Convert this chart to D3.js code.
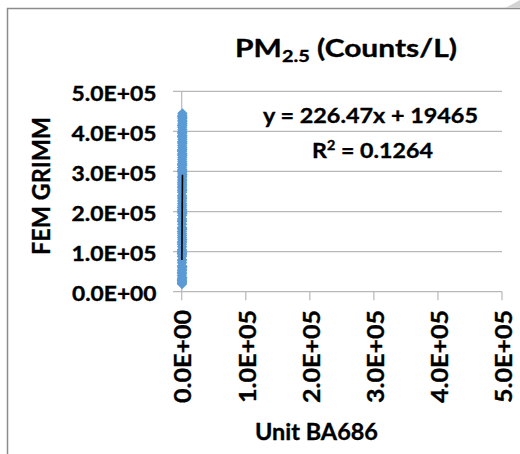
<!DOCTYPE html>
<html>
<head>
<meta charset="utf-8">
<script src="https://cdn.jsdelivr.net/npm/d3@7"></script>
<style>
  html, body { margin: 0; padding: 0; background: #fff; }
  svg { display: block; }
  text { font-family: Lato, "Open Sans", sans-serif; font-weight: bold; fill: #000;
         stroke: #000; stroke-width: 0.35; }
</style>
</head>
<body>
<svg id="chart" width="520" height="454"></svg>
<script>
// Paired readings: BA686 unit (x) against FEM GRIMM (y), PM2.5 counts per litre
const unitBA686 = [263, 290, 310, 325, 340, 355, 370, 385, 400, 410, 420, 435, 450, 460, 470,
  480, 495, 505, 515, 525, 540, 550, 560, 570, 580, 590, 600, 610, 620, 630, 640, 650, 660,
  670, 680, 690, 700, 710, 720, 730, 740, 750, 760, 770, 785, 800, 815, 830, 845, 860, 880,
  900, 920, 940, 960, 985, 1010, 1040, 1070, 1100, 1140, 1170, 1203,
  275, 345, 395, 445, 485, 530, 575, 615, 655, 695, 725, 765, 805, 835, 870, 895, 915, 935,
  955, 975, 995, 1020, 1050, 1080, 1110, 1130, 1150, 1160, 1185, 1195, 1090, 1060, 650, 590,
  700, 745, 820, 380, 430, 510, 555, 1120, 1000];
const femGrimm = [21000, 95000, 40000, 150000, 28000, 210000, 65000, 118000, 24000, 175000,
  52000, 260000, 88000, 135000, 33000, 198000, 72000, 310000, 105000, 160000, 45000, 240000,
  125000, 19000, 285000, 182000, 60000, 350000, 145000, 220000, 98000, 272000, 25000, 190000,
  330000, 112000, 248000, 168000, 395000, 80000, 300000, 205000, 140000, 365000, 55000, 268000,
  232000, 410000, 155000, 320000, 92000, 280000, 375000, 215000, 428000, 130000, 340000,
  255000, 445000, 195000, 385000, 292000, 420000,
  30000, 48000, 78000, 102000, 122000, 158000, 178000, 202000, 226000, 236000, 252000, 264000,
  276000, 288000, 296000, 305000, 315000, 325000, 335000, 345000, 355000, 360000, 370000,
  380000, 390000, 400000, 405000, 415000, 425000, 435000, 440000, 432000, 318000, 302000,
  342000, 372000, 398000, 352000, 388000, 415000, 438000, 62000, 35000];

// Linear trendline as reported on the chart
const slope = 226.47;
const intercept = 19465;
const rSquared = 0.1264;

const axisTicks = [0, 100000, 200000, 300000, 400000, 500000];
const tickFormat = v => v.toExponential(1).toUpperCase().replace(/E([+-])(\d)$/, "E$10$2");

const svg = d3.select("#chart");

// Stretch a text element horizontally (in its own frame) to a given width
function fitWidth(textSel, width) {
  const w = textSel.node().getBBox().width;
  return w > 0 ? width / w : 1;
}

// Chart area frame and the small shadow corner
svg.append("rect")
  .attr("x", 7.5).attr("y", 8.5).attr("width", 620).attr("height", 620)
  .attr("fill", "none").attr("stroke", "#8c8c8c").attr("stroke-width", 1.5);
svg.append("polygon")
  .attr("points", "505,8 520,0 520,8")
  .attr("fill", "#d4d4d4");

const x = d3.scaleLinear().domain([0, 500000]).range([181.7, 502]);
const y = d3.scaleLinear().domain([0, 500000]).range([291.7, 91.3]);

const gridColor = "#b8b8b8";

// Horizontal gridlines (with outward tick at the left)
svg.append("g").selectAll("line")
  .data(axisTicks)
  .join("line")
  .attr("x1", 173).attr("x2", x(500000))
  .attr("y1", d => y(d)).attr("y2", d => y(d))
  .attr("stroke", gridColor).attr("stroke-width", 1.2);

// Vertical axis line
svg.append("line")
  .attr("x1", x(0)).attr("x2", x(0))
  .attr("y1", y(500000)).attr("y2", y(0))
  .attr("stroke", gridColor).attr("stroke-width", 1.2);

// X tick marks
svg.append("g").selectAll("line")
  .data(axisTicks)
  .join("line")
  .attr("x1", d => x(d)).attr("x2", d => x(d))
  .attr("y1", y(0)).attr("y2", y(0) + 8.5)
  .attr("stroke", gridColor).attr("stroke-width", 1.2);

// Y tick labels
const yLabels = svg.append("g").selectAll("g")
  .data(axisTicks)
  .join("g");
yLabels.append("text")
  .attr("text-anchor", "end")
  .attr("font-size", 20)
  .text(tickFormat);
yLabels.attr("transform", function (d) {
  const s = fitWidth(d3.select(this).select("text"), 85);
  return `translate(156.5,${y(d) + 9.5}) scale(${s},1)`;
});

// X tick labels, rotated
const xLabels = svg.append("g").selectAll("g")
  .data(axisTicks)
  .join("g");
xLabels.append("text")
  .attr("text-anchor", "end")
  .attr("y", 23 * 0.36)
  .attr("font-size", 23)
  .text(tickFormat);
xLabels.attr("transform", function (d) {
  const s = fitWidth(d3.select(this).select("text"), 93);
  return `translate(${x(d) + 1.5},310) rotate(-90) scale(${s},1)`;
});

// Scatter markers (diamonds)
const r = 5.2;
const diamond = `M0,${-r}L${r},0L0,${r}L${-r},0Z`;
svg.append("g").selectAll("path")
  .data(unitBA686.map((v, i) => [v, femGrimm[i]]))
  .join("path")
  .attr("d", diamond)
  .attr("transform", d => `translate(${x(d[0])},${y(d[1])})`)
  .attr("fill", "#5b9bd5");

// Trendline across the x range of the data
const [xMin, xMax] = d3.extent(unitBA686);
svg.append("line")
  .attr("x1", x(xMin)).attr("y1", y(slope * xMin + intercept))
  .attr("x2", x(xMax)).attr("y2", y(slope * xMax + intercept))
  .attr("stroke", "#000").attr("stroke-width", 1.6);

// Centered label helper: text at a baseline, stretched to a target width
function centered(cx, baseline, width, build) {
  const g = svg.append("g");
  const t = g.append("text").attr("text-anchor", "middle");
  build(t);
  const s = fitWidth(t, width);
  g.attr("transform", `translate(${cx},${baseline}) scale(${s},1)`);
  return g;
}

// Trendline label
centered(370.5, 123, 215, t => {
  t.attr("font-size", 21).text(`y = ${slope}x + ${intercept}`);
});
centered(372.5, 158, 121, t => {
  t.attr("font-size", 21);
  t.append("tspan").text("R");
  t.append("tspan").attr("dy", -8).attr("font-size", 13).text("2");
  t.append("tspan").attr("dy", 8).text(` = ${rSquared}`);
});

// Title
centered(346, 56.7, 222, t => {
  t.attr("font-size", 25.5);
  t.append("tspan").text("PM");
  t.append("tspan").attr("dy", 5).attr("font-size", 17).text("2.5");
  t.append("tspan").attr("dy", -5).text(" (Counts/L)");
});

// Axis titles
centered(316.5, 440, 123, t => {
  t.attr("font-size", 23).text("Unit BA686");
});
const yTitle = svg.append("g");
const yt = yTitle.append("text")
  .attr("text-anchor", "middle")
  .attr("y", 24 * 0.36)
  .attr("font-size", 24)
  .text("FEM GRIMM");
yTitle.attr("transform", `translate(41,186) rotate(-90) scale(${fitWidth(yt, 138)},1)`);
</script>
</body>
</html>
